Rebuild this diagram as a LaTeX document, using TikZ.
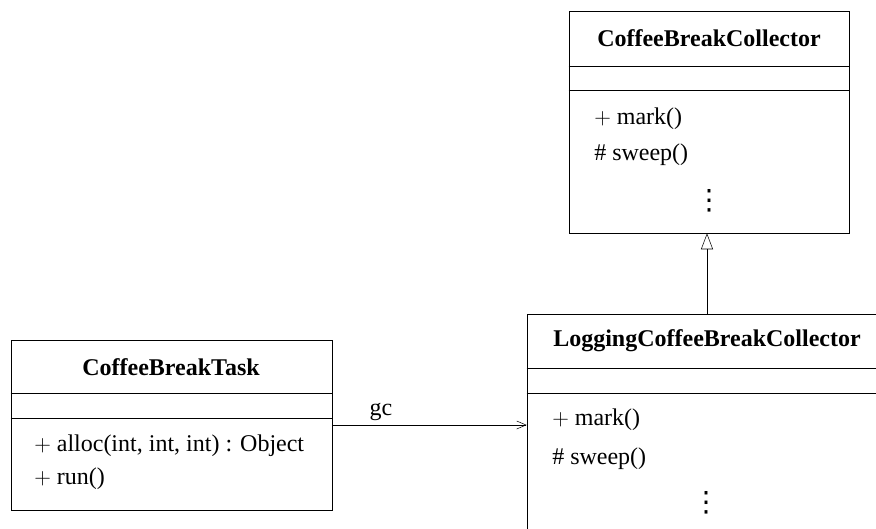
\documentclass[tikz,border=0pt]{standalone}
\usepackage{amsmath}
\usepackage{fontspec}
\setmainfont{Liberation Serif}
\newfontfamily\dotsfont{DejaVu Sans}
\usetikzlibrary{arrows.meta}

\tikzset{
  classbox/.style={draw, inner sep=0pt},
  member/.style={anchor=west, inner sep=0.75pt, font=\fontsize{18}{21}\selectfont},
  classname/.style={inner sep=0.75pt, font=\fontsize{18}{21}\selectfont\bfseries},
  moredots/.style={inner sep=0.75pt, font=\dotsfont\fontsize{21}{24}\selectfont}
}

\begin{document}
\begin{tikzpicture}[x=0.75pt,y=0.75pt,yscale=-1,xscale=1]
\useasboundingbox (0,0) rectangle (876,529);
\clip (0,0) rectangle (876,529);

%Shape: Rectangle [CoffeeBreakCollector]
\node [classbox, minimum width=210pt, minimum height=166.5pt] (coll) at (709,122) {};
\draw (coll.west |- 0,66) -- (coll.east |- 0,66) ;
\draw (coll.west |- 0,90) -- (coll.east |- 0,90) ;
%Shape: Rectangle [LoggingCoffeeBreakCollector]
\node [classbox, minimum width=270pt, minimum height=169.5pt] (logcoll) at (707,427) {};
\draw (logcoll.west |- 0,368) -- (logcoll.east |- 0,368) ;
\draw (logcoll.west |- 0,393) -- (logcoll.east |- 0,393) ;
%Shape: Rectangle [CoffeeBreakTask]
\node [classbox, minimum width=240.75pt, minimum height=127.5pt] (task) at (171.5,425) {};
\draw (task.west |- 0,393) -- (task.east |- 0,393) ;
\draw (task.west |- 0,418) -- (task.east |- 0,418) ;

% Text Node
\node [classname] (collname) at (709,38) {CoffeeBreakCollector};
% Text Node
\node [member] (collmark) at (593,119) {$+$ mark()};
% Text Node
\node [member] (collsweep) at (593,155) {\# sweep()};
% Text Node
\node [moredots] (colldots) at (709,201) {⋮};

% Text Node
\node [classname] (logname) at (707,341) {LoggingCoffeeBreakCollector};
% Text Node
\node [member] (logmark) at (551,420) {$+$ mark()};
% Text Node
\node [member] (logsweep) at (551,459) {\# sweep()};
% Text Node
\node [moredots] (logdots) at (706,503) {⋮};

% Text Node
\node [classname] (taskname) at (171,367) {CoffeeBreakTask};
% Text Node
\node [member] (taskalloc) at (33,446) {$+$ alloc(int, int, int) : Object};
% Text Node
\node [member] (taskrun) at (33,479) {$+$ run()};

%Straight Lines [generalization]
\draw [-{Triangle[open,length=12pt,width=9pt]}] (logcoll.north) -- (logcoll.north |- coll.south) ;
%Straight Lines [association]
\draw [-{Straight Barb[length=7pt,width=6pt]}] (task.east) -- (task.east -| logcoll.west)
  node [pos=0.25, above, inner sep=3pt, font=\fontsize{18}{21}\selectfont] (gc) {gc} ;
\end{tikzpicture}
\end{document}
